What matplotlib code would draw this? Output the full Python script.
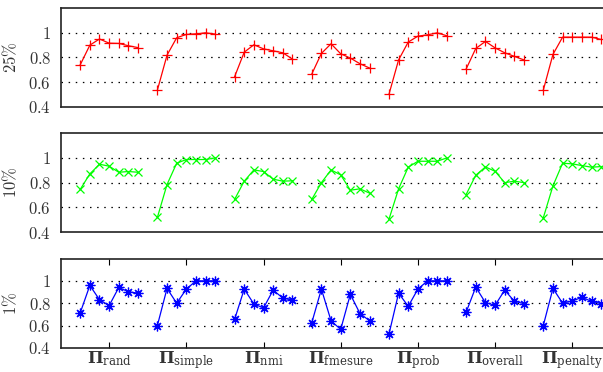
import matplotlib
matplotlib.use("Agg")
import matplotlib.pyplot as plt
import numpy as np

plt.rcParams['mathtext.fontset'] = 'cm'
plt.rcParams['font.family'] = 'serif'

# ------------------ Data
methods = ["rand", "simple", "nmi", "fmesure", "prob", "overall", "penalty"]

pct25 = [
    [0.74, 0.90, 0.95, 0.916, 0.914, 0.895, 0.88],
    [0.535, 0.819, 0.96, 0.987, 0.992, 1.0, 0.99],
    [0.643, 0.843, 0.903, 0.87, 0.854, 0.838, 0.787],
    [0.665, 0.833, 0.911, 0.83, 0.795, 0.749, 0.714],
    [0.50, 0.78, 0.925, 0.973, 0.984, 1.0, 0.976],
    [0.706, 0.873, 0.93, 0.878, 0.838, 0.809, 0.78],
    [0.535, 0.825, 0.965, 0.965, 0.965, 0.965, 0.946],
]
pct10 = [
    [0.745, 0.871, 0.949, 0.933, 0.884, 0.89, 0.884],
    [0.519, 0.785, 0.957, 0.987, 0.987, 0.987, 1.0],
    [0.664, 0.812, 0.903, 0.89, 0.828, 0.812, 0.815],
    [0.664, 0.80, 0.903, 0.863, 0.739, 0.75, 0.715],
    [0.503, 0.75, 0.925, 0.973, 0.973, 0.973, 1.0],
    [0.704, 0.86, 0.927, 0.892, 0.80, 0.812, 0.80],
    [0.516, 0.774, 0.957, 0.952, 0.938, 0.925, 0.93],
]
pct1 = [
    [0.713, 0.959, 0.831, 0.778, 0.941, 0.902, 0.89],
    [0.60, 0.932, 0.80, 0.926, 1.0, 1.0, 1.0],
    [0.654, 0.926, 0.793, 0.757, 0.917, 0.846, 0.828],
    [0.624, 0.926, 0.642, 0.565, 0.879, 0.707, 0.642],
    [0.521, 0.89, 0.772, 0.926, 1.0, 1.0, 1.0],
    [0.719, 0.944, 0.805, 0.781, 0.917, 0.817, 0.796],
    [0.60, 0.932, 0.80, 0.82, 0.852, 0.817, 0.796],
]

panels = [
    (pct25, r"$25\%$", "#ff0000", "+", 6.5),
    (pct10, r"$10\%$", "#00ff00", "x", 5.5),
    (pct1, r"$1\%$", "#0000ff", (8, 2, 0), 7),
]

# axes positions in figure fraction (left, bottom, width, height)
positions = [
    [0.101, 0.713, 0.912, 0.265],
    [0.101, 0.376, 0.912, 0.266],
    [0.101, 0.065, 0.912, 0.240],
]

fig = plt.figure(figsize=(6.03, 3.72), dpi=100)

for k, (data, label, color, marker, ms) in enumerate(panels):
    ax = fig.add_axes(positions[k])
    for g, vals in enumerate(data):
        xs = g * 8 + 2 + np.arange(len(vals))
        ax.plot(xs, vals, color=color, linewidth=0.9, marker=marker,
                markersize=ms, markeredgewidth=0.9)

    ax.set_xlim(0, 57)
    ax.set_ylim(0.4, 1.2)
    ax.set_yticks([0.4, 0.6, 0.8, 1.0])
    ax.set_yticklabels([r"$0.4$", r"$0.6$", r"$0.8$", r"$1$"])
    for yv in [0.6, 0.8, 1.0]:
        ax.axhline(yv, color="black", linewidth=0.9, linestyle=(0, (1.2, 4.5)), zorder=0)
    ax.tick_params(axis="y", length=0, pad=7, labelsize=12, labelcolor="#333333")
    ax.set_ylabel(label, fontsize=12, color="#333333", labelpad=6)

    for sp in ax.spines.values():
        sp.set_linewidth(1.2)
        sp.set_color("#222222")

    if k < 2:
        ax.set_xticks([])
    else:
        centers = [g * 8 + 5 for g in range(len(methods))]
        ax.set_xticks(centers)
        ax.set_xticklabels([r"$\mathbf{\Pi}_{\mathrm{%s}}$" % m for m in methods])
        ax.tick_params(axis="x", direction="in", top=True, length=4, width=0.8,
                       labelsize=12, pad=1, labelcolor="#333333")
        for t in ax.get_xticklabels():
            t.set_math_fontfamily("dejavuserif")

fig.savefig("out.png", dpi=100)
